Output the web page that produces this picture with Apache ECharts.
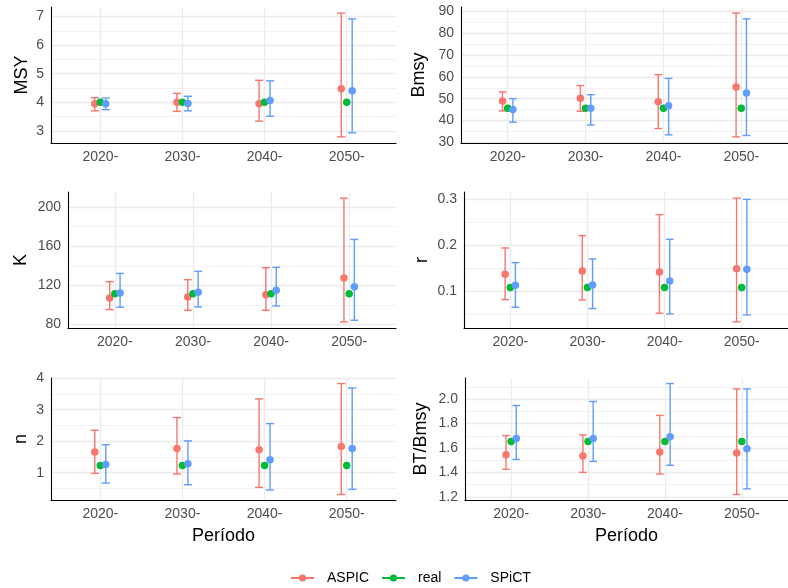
<!DOCTYPE html>
<html><head><meta charset="utf-8">
<script src="https://cdn.jsdelivr.net/npm/echarts@6/dist/echarts.min.js"></script>
<style>html,body{margin:0;padding:0;background:#fff}#c{width:788px;height:588px}</style>
</head><body><div id="c"></div>
<script>
// ---------- DATA ----------
const periods = ['2020-', '2030-', '2040-', '2050-'];
const groups = ['ASPIC', 'real', 'SPiCT'];
const panelTitles = ['MSY', 'Bmsy', 'K', 'r', 'n', 'BT/Bmsy'];

// MSY
const msyASPIC   = [3.95, 4.00, 3.95, 4.47];
const msyASPICLo = [3.70, 3.68, 3.34, 2.79];
const msyASPICHi = [4.16, 4.31, 4.77, 7.12];
const msyReal    = [4.00, 4.00, 4.00, 4.00];
const msySPiCT   = [3.95, 3.96, 4.06, 4.40];
const msySPiCTLo = [3.74, 3.70, 3.51, 2.93];
const msySPiCTHi = [4.15, 4.21, 4.75, 6.92];
const msyTicks = [3, 4, 5, 6, 7];

// Bmsy
const bmsyASPIC   = [48.9, 50.2, 48.6, 55.3];
const bmsyASPICLo = [44.4, 44.2, 36.3, 32.5];
const bmsyASPICHi = [53.1, 56.0, 61.0, 89.2];
const bmsyReal    = [45.6, 45.6, 45.6, 45.6];
const bmsySPiCT   = [45.0, 45.6, 46.8, 52.6];
const bmsySPiCTLo = [39.2, 37.9, 33.4, 33.1];
const bmsySPiCTHi = [50.0, 51.8, 59.3, 86.6];
const bmsyTicks = [30, 40, 50, 60, 70, 80, 90];

// K
const kASPIC   = [107.2, 108.2, 110.6, 127.6];
const kASPICLo = [95.3, 94.6, 94.6, 82.8];
const kASPICHi = [123.8, 125.9, 138.1, 209.2];
const kReal    = [111.6, 111.6, 111.6, 111.6];
const kSPiCT   = [112.3, 113.0, 115.0, 118.7];
const kSPiCTLo = [97.7, 98.0, 99.0, 84.4];
const kSPiCTHi = [132.3, 134.4, 138.5, 167.0];
const kTicks = [80, 120, 160, 200];

// r
const rASPIC   = [0.1375, 0.1448, 0.1426, 0.1498];
const rASPICLo = [0.0827, 0.0819, 0.0531, 0.0345];
const rASPICHi = [0.1946, 0.2213, 0.2668, 0.3025];
const rReal    = [0.109, 0.109, 0.109, 0.109];
const rSPiCT   = [0.1137, 0.1144, 0.1231, 0.1484];
const rSPiCTLo = [0.0661, 0.0632, 0.0516, 0.0495];
const rSPiCTHi = [0.1628, 0.1708, 0.2134, 0.3000];
const rTicks = [0.1, 0.2, 0.3];

// n
const nASPIC   = [1.655, 1.77, 1.73, 1.83];
const nASPICLo = [0.98, 0.96, 0.535, 0.31];
const nASPICHi = [2.35, 2.75, 3.34, 3.83];
const nReal    = [1.23, 1.23, 1.23, 1.23];
const nSPiCT   = [1.26, 1.285, 1.41, 1.77];
const nSPiCTLo = [0.67, 0.62, 0.45, 0.47];
const nSPiCTHi = [1.89, 2.01, 2.56, 3.69];
const nTicks = [1, 2, 3, 4];

// BT/Bmsy
const btASPIC   = [1.544, 1.534, 1.566, 1.558];
const btASPICLo = [1.425, 1.400, 1.387, 1.219];
const btASPICHi = [1.702, 1.707, 1.867, 2.084];
const btReal    = [1.653, 1.653, 1.653, 1.653];
const btSPiCT   = [1.677, 1.677, 1.691, 1.593];
const btSPiCTLo = [1.506, 1.490, 1.458, 1.265];
const btSPiCTHi = [1.948, 1.981, 2.128, 2.084];
const btTicks = [1.2, 1.4, 1.6, 1.8, 2.0];

// ---------- BUILD ----------
const colors = {ASPIC: '#F8766D', real: '#00BA38', SPiCT: '#619CFF'};
const panels = [
  {est: [msyASPIC, msyReal, msySPiCT], lo: [msyASPICLo, null, msySPiCTLo], hi: [msyASPICHi, null, msySPiCTHi], ticks: msyTicks, dec: 0},
  {est: [bmsyASPIC, bmsyReal, bmsySPiCT], lo: [bmsyASPICLo, null, bmsySPiCTLo], hi: [bmsyASPICHi, null, bmsySPiCTHi], ticks: bmsyTicks, dec: 0},
  {est: [kASPIC, kReal, kSPiCT], lo: [kASPICLo, null, kSPiCTLo], hi: [kASPICHi, null, kSPiCTHi], ticks: kTicks, dec: 0},
  {est: [rASPIC, rReal, rSPiCT], lo: [rASPICLo, null, rSPiCTLo], hi: [rASPICHi, null, rSPiCTHi], ticks: rTicks, dec: 1},
  {est: [nASPIC, nReal, nSPiCT], lo: [nASPICLo, null, nSPiCTLo], hi: [nASPICHi, null, nSPiCTHi], ticks: nTicks, dec: 0},
  {est: [btASPIC, btReal, btSPiCT], lo: [btASPICLo, null, btSPiCTLo], hi: [btASPICHi, null, btSPiCTHi], ticks: btTicks, dec: 1},
];

const gridPos = [
  {left: 51,  top: 7,   width: 345, height: 136},
  {left: 461, top: 7,   width: 336, height: 136},
  {left: 68,  top: 192, width: 328, height: 136},
  {left: 464, top: 192, width: 333, height: 136},
  {left: 51,  top: 378, width: 345, height: 122},
  {left: 465, top: 378, width: 332, height: 122},
];
const nameGaps = [20, 33, 38, 33, 21, 35];

const FONT = 'Liberation Sans, Arial, Helvetica, sans-serif';
const dodge = 0.2 / 3;
const capHalf = 0.05;
const catIdx = periods.map((_, j) => j + 1);

const grid = [], xAxis = [], yAxis = [], series = [];

// legend dummies first
groups.forEach(g => {
  series.push({type: 'line', name: g, xAxisIndex: 0, yAxisIndex: 0, data: [],
    symbol: 'circle', symbolSize: 7, itemStyle: {color: colors[g]}, lineStyle: {color: colors[g], width: 1.4}});
});

panels.forEach((p, i) => {
  grid.push(Object.assign({containLabel: false}, gridPos[i]));
  let all = [];
  p.est.forEach(a => all = all.concat(a));
  p.lo.forEach(a => { if (a) all = all.concat(a); });
  p.hi.forEach(a => { if (a) all = all.concat(a); });
  const dmin = Math.min(...all), dmax = Math.max(...all);
  const pad = (dmax - dmin) * 0.05;
  const ymin = dmin - pad, ymax = dmax + pad;
  const step = p.ticks[1] - p.ticks[0];
  const minors = [];
  for (let k = -1; k < p.ticks.length; k++) {
    const v = +(p.ticks[0] + step * (k + 0.5)).toFixed(6);
    if (v >= ymin && v <= ymax) minors.push(v);
  }
  const bottom = i >= 4;
  xAxis.push({
    type: 'value', gridIndex: i, min: 0.4, max: 4.6,
    name: bottom ? 'Período' : '', nameLocation: 'middle', nameGap: 27,
    nameTextStyle: {fontSize: 18, color: '#000', fontFamily: FONT},
    axisLine: {show: true, onZero: false, lineStyle: {color: '#000', width: 1.1}},
    axisTick: {show: false, customValues: catIdx},
    axisLabel: {customValues: catIdx, formatter: v => periods[Math.round(v) - 1], color: '#4d4d4d', fontSize: 14, fontFamily: FONT, margin: 7},
    splitLine: {show: true, lineStyle: {color: '#ebebeb', width: 1.3}}
  });
  yAxis.push({
    type: 'value', gridIndex: i, min: ymin, max: ymax, position: 'left',
    name: panelTitles[i], nameLocation: 'middle', nameGap: nameGaps[i], nameRotate: 90,
    nameTextStyle: {fontSize: 18, color: '#000', fontFamily: FONT},
    axisLine: {show: true, onZero: false, lineStyle: {color: '#000', width: 1.1}},
    axisTick: {show: false, customValues: p.ticks},
    axisLabel: {customValues: p.ticks, formatter: v => v.toFixed(p.dec), color: '#4d4d4d', fontSize: 14, fontFamily: FONT, margin: 7},
    splitLine: {show: true, lineStyle: {color: '#ebebeb', width: 1.3}}
  });
  yAxis.push({
    type: 'value', gridIndex: i, min: ymin, max: ymax, position: 'right',
    axisLine: {show: false}, axisLabel: {show: false},
    axisTick: {show: false, customValues: minors},
    splitLine: {show: true, lineStyle: {color: '#ececec', width: 0.7}}
  });
  const yIdx = 2 * i;
  // error bars
  groups.forEach((g, gi) => {
    if (!p.lo[gi]) return;
    const off = (gi - 1) * dodge;
    series.push({
      type: 'custom', name: g, xAxisIndex: i, yAxisIndex: yIdx,
      encode: {x: 0, y: [1, 2]},
      data: catIdx.map((c, j) => [c + off, p.lo[gi][j], p.hi[gi][j]]),
      renderItem: (params, api) => {
        const x = api.value(0), lo = api.value(1), hi = api.value(2);
        const a = api.coord([x, lo]), b = api.coord([x, hi]);
        const l = api.coord([x - capHalf, hi])[0], r = api.coord([x + capHalf, hi])[0];
        const style = {stroke: colors[g], lineWidth: 1.4, fill: null};
        return {type: 'group', children: [
          {type: 'line', shape: {x1: a[0], y1: a[1], x2: b[0], y2: b[1]}, style},
          {type: 'line', shape: {x1: l, y1: b[1], x2: r, y2: b[1]}, style},
          {type: 'line', shape: {x1: l, y1: a[1], x2: r, y2: a[1]}, style},
        ]};
      }
    });
  });
  // points
  groups.forEach((g, gi) => {
    const off = (gi - 1) * dodge;
    series.push({
      type: 'scatter', name: g, xAxisIndex: i, yAxisIndex: yIdx,
      symbol: 'circle', symbolSize: 7.5, itemStyle: {color: colors[g], opacity: 1},
      data: catIdx.map((c, j) => [c + off, p.est[gi][j]])
    });
  });
});

const chart = echarts.init(document.getElementById('c'), null, {renderer: 'canvas'});
chart.setOption({
  animation: false,
  backgroundColor: '#fff',
  textStyle: {fontFamily: FONT},
  grid, xAxis, yAxis, series,
  legend: {
    data: groups, left: 285, top: 566, itemWidth: 23, itemHeight: 9, itemGap: 12,
    textStyle: {fontSize: 14, color: '#000', fontFamily: FONT, padding: [0, 0, 0, 8]}
  }
});
</script></body></html>
